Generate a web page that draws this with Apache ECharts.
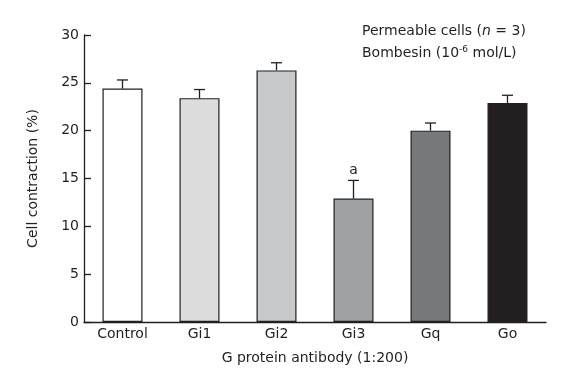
<!DOCTYPE html>
<html>
<head>
<meta charset="utf-8">
<script src="https://cdn.jsdelivr.net/npm/echarts@6/dist/echarts.min.js"></script>
<style>
	html, body { margin: 0; padding: 0; background: #fff; }
	#chart { width: 582px; height: 392px; }
</style>
</head>
<body>
<div id="chart"></div>
<script>
// Data
let groups = ['Control', 'Gi1', 'Gi2', 'Gi3', 'Gq', 'Go'];
let means = [24.4, 23.4, 26.3, 12.9, 20.0, 22.9];
let errTops = [25.3, 24.3, 27.1, 14.8, 20.8, 23.7];
let marks = ['', '', '', 'a', '', ''];
let barColors = ['#ffffff', '#dcdcdd', '#c8c9ca', '#a0a1a4', '#77787a', '#231f20'];
let yTicks = [0, 5, 10, 15, 20, 25, 30];

let ink = '#231f20';
let font = 'DejaVu Sans';

let chart = echarts.init(document.getElementById('chart'));

let option = {
	animation: false,
	backgroundColor: '#fff',
	grid: { left: 84, right: 36, top: 35, bottom: 70 },
	xAxis: {
		type: 'category',
		data: groups,
		name: 'G protein antibody (1:200)',
		nameLocation: 'middle',
		nameGap: 29,
		nameTextStyle: { color: ink, fontFamily: font, fontSize: 14 },
		axisLine: { lineStyle: { color: ink, width: 1.3 } },
		axisTick: { show: false },
		axisLabel: { color: ink, fontFamily: font, fontSize: 14, margin: 5 }
	},
	yAxis: {
		type: 'value',
		min: 0,
		max: 30,
		interval: 5,
		name: 'Cell contraction (%)',
		nameLocation: 'middle',
		nameGap: 44,
		nameTextStyle: { color: ink, fontFamily: font, fontSize: 14 },
		splitLine: { show: false },
		axisLine: { show: true, lineStyle: { color: ink, width: 1.3 } },
		axisTick: { show: true, inside: true, length: 7, lineStyle: { color: ink, width: 1.3 } },
		axisLabel: {
			color: ink, fontFamily: font, fontSize: 14, margin: 5,
			formatter: function (v) { return yTicks.indexOf(v) >= 0 ? String(v) : ''; }
		}
	},
	series: [
		{
			type: 'bar',
			barWidth: 40,
			data: means.map(function (v, i) {
				return { value: v, itemStyle: { color: barColors[i] } };
			}),
			itemStyle: { borderColor: ink, borderWidth: 1.2 },
			z: 2
		},
		{
			type: 'custom',
			z: 3,
			data: groups.map(function (g, i) { return [i, means[i], errTops[i]]; }),
			renderItem: function (params, api) {
				let base = api.coord([api.value(0), api.value(1)]);
				let top = api.coord([api.value(0), api.value(2)]);
				let x = base[0];
				let kids = [
					{ type: 'line', shape: { x1: x, y1: base[1], x2: x, y2: top[1] }, style: { stroke: ink, lineWidth: 1.3 } },
					{ type: 'line', shape: { x1: x - 5.5, y1: top[1], x2: x + 5.5, y2: top[1] }, style: { stroke: ink, lineWidth: 1.3 } }
				];
				let m = marks[params.dataIndex];
				if (m) {
					kids.push({
						type: 'text',
						style: { text: m, x: x, y: top[1] - 3, align: 'center', verticalAlign: 'bottom', fill: ink, font: '14px ' + font }
					});
				}
				return { type: 'group', children: kids };
			}
		}
	],
	graphic: [
		{
			type: 'text', left: 362, top: 24,
			style: {
				text: 'Permeable cells ({i|n} = 3)',
				fill: ink, font: '14px ' + font,
				rich: { i: { fontStyle: 'italic', fontFamily: font, fontSize: 14, fill: ink } }
			}
		},
		{
			type: 'text', left: 362, top: 45,
			style: {
				text: 'Bombesin (10{s|-6} mol/L)',
				fill: ink, font: '14px ' + font,
				rich: { s: { fontFamily: font, fontSize: 9, verticalAlign: 'top', padding: [0, 0, 8, 0], fill: ink } }
			}
		}
	]
};

chart.setOption(option);
</script>
</body>
</html>
